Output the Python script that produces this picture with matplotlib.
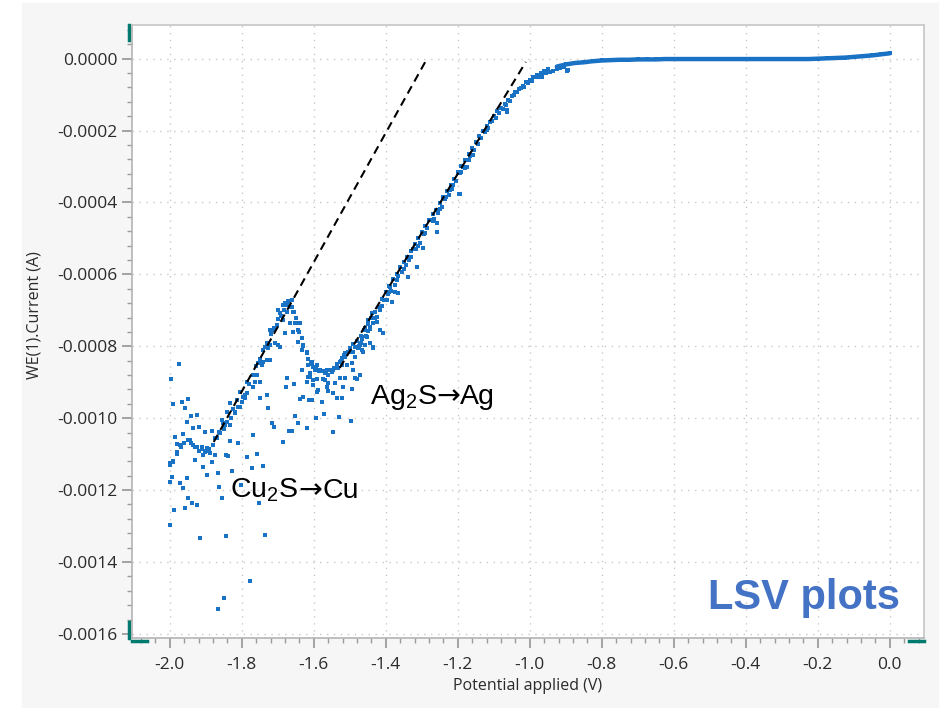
import numpy as np
import matplotlib.pyplot as plt
from matplotlib.patches import Rectangle
from matplotlib.lines import Line2D
from matplotlib.ticker import MultipleLocator, FuncFormatter
from matplotlib.offsetbox import TextArea, HPacker, AnnotationBbox

plt.rcParams['font.family'] = ['Open Sans', 'DejaVu Sans']
plt.rcParams['mathtext.fontset'] = 'custom'
plt.rcParams['mathtext.rm'] = 'Liberation Sans'

# LSV data: (potential V, current mA)
flat_pts = [(-0.925, -0.022), (-0.900, -0.016), (-0.875, -0.012), (-0.850, -0.010),
            (-0.825, -0.007), (-0.800, -0.005), (-0.775, -0.004), (-0.750, -0.003),
            (-0.725, -0.003), (-0.700, -0.002), (-0.675, -0.002), (-0.650, -0.002),
            (-0.625, -0.001), (-0.600, -0.001), (-0.575, -0.001), (-0.550, -0.001),
            (-0.525, -0.001), (-0.500, -0.001), (-0.475, -0.001), (-0.450, -0.001),
            (-0.425, -0.001), (-0.400, -0.001), (-0.375, -0.001), (-0.350, -0.001),
            (-0.325, -0.001), (-0.300, -0.001), (-0.275, -0.001), (-0.250, -0.001),
            (-0.225, -0.001), (-0.200, 0.000), (-0.175, 0.001), (-0.150, 0.002),
            (-0.125, 0.003), (-0.100, 0.005), (-0.075, 0.007), (-0.050, 0.009),
            (-0.025, 0.012), (0.000, 0.015)]

steep_pts = [(-0.95, -0.030), (-0.96, -0.034), (-0.97, -0.040), (-0.98, -0.046), (-0.99, -0.052),
             (-1.00, -0.060), (-1.01, -0.066), (-1.02, -0.075), (-1.03, -0.083), (-1.04, -0.093),
             (-1.05, -0.103), (-1.06, -0.116), (-1.07, -0.125), (-1.08, -0.137), (-1.09, -0.146),
             (-1.10, -0.160), (-1.11, -0.175), (-1.12, -0.188), (-1.13, -0.200), (-1.14, -0.216),
             (-1.15, -0.232), (-1.16, -0.249), (-1.17, -0.265), (-1.18, -0.282), (-1.19, -0.298),
             (-1.20, -0.316), (-1.21, -0.335), (-1.22, -0.352), (-1.23, -0.368), (-1.24, -0.386),
             (-1.25, -0.402), (-1.26, -0.420), (-1.27, -0.432), (-1.28, -0.448), (-1.29, -0.466),
             (-1.30, -0.482), (-1.31, -0.500), (-1.32, -0.516), (-1.33, -0.535), (-1.34, -0.552),
             (-1.35, -0.565), (-1.36, -0.580), (-1.37, -0.598), (-1.38, -0.614), (-1.39, -0.632),
             (-1.40, -0.650), (-1.41, -0.668), (-1.42, -0.690), (-1.43, -0.705), (-1.44, -0.720),
             (-1.45, -0.738), (-1.46, -0.755), (-1.47, -0.770), (-1.48, -0.785), (-1.49, -0.795),
             (-1.50, -0.805),
             (-0.965, -0.041), (-0.985, -0.052), (-1.005, -0.068), (-1.025, -0.082), (-1.045, -0.102),
             (-1.065, -0.128), (-1.085, -0.150), (-1.105, -0.172), (-1.125, -0.205), (-1.135, -0.220),
             (-1.155, -0.255), (-1.165, -0.272), (-1.175, -0.300), (-1.185, -0.300), (-1.195, -0.318),
             (-1.205, -0.340), (-1.215, -0.362), (-1.225, -0.378), (-1.235, -0.390), (-1.245, -0.412),
             (-1.255, -0.428), (-1.265, -0.445), (-1.275, -0.450), (-1.285, -0.472), (-1.295, -0.488),
             (-1.305, -0.512), (-1.315, -0.530), (-1.325, -0.530), (-1.335, -0.560), (-1.345, -0.575),
             (-1.355, -0.592), (-1.365, -0.605), (-1.375, -0.630), (-1.385, -0.645), (-1.395, -0.655),
             (-1.405, -0.672), (-1.415, -0.700), (-1.425, -0.718), (-1.435, -0.735), (-1.445, -0.752),
             (-1.455, -0.770), (-1.465, -0.780), (-1.475, -0.800), (-1.485, -0.830)]

# second row of points just under the steep band
steep_low_pts = [(-0.905, -0.024), (-0.915, -0.027), (-0.925, -0.030), (-0.935, -0.033), (-0.945, -0.036),
                 (-0.955, -0.040), (-0.975, -0.050), (-0.995, -0.062), (-1.015, -0.078), (-1.035, -0.094),
                 (-1.055, -0.118), (-1.075, -0.140), (-1.095, -0.164), (-1.115, -0.192), (-1.145, -0.238),
                 (-1.170, -0.282), (-1.190, -0.316), (-1.212, -0.352), (-1.232, -0.386), (-1.250, -0.418),
                 (-1.270, -0.452), (-1.290, -0.485), (-1.310, -0.520), (-1.330, -0.552), (-1.350, -0.585),
                 (-1.370, -0.616), (-1.390, -0.650), (-1.410, -0.688), (-1.430, -0.722), (-1.450, -0.758),
                 (-1.470, -0.790), (-1.490, -0.815)]

knee_pts = [(-0.897, -0.034), (-0.894, -0.031), (-0.967, -0.051), (-1.064, -0.143), (-1.064, -0.148),
            (-1.119, -0.198), (-1.158, -0.268), (-1.175, -0.301), (-1.181, -0.304), (-1.194, -0.377),
            (-1.197, -0.377), (-1.222, -0.365), (-1.258, -0.458), (-1.258, -0.482), (-1.297, -0.527),
            (-1.314, -0.580), (-1.339, -0.607), (-1.367, -0.652), (-1.383, -0.677), (-1.408, -0.763),
            (-1.436, -0.802), (-1.464, -0.816)]

band_pts = [(-1.505, -0.815), (-1.515, -0.825), (-1.525, -0.840), (-1.535, -0.848), (-1.545, -0.860),
            (-1.555, -0.866), (-1.565, -0.872), (-1.575, -0.870), (-1.585, -0.868), (-1.595, -0.860),
            (-1.605, -0.850), (-1.615, -0.835), (-1.620, -0.818), (-1.630, -0.800), (-1.640, -0.760),
            (-1.645, -0.735), (-1.650, -0.720), (-1.655, -0.705), (-1.660, -0.690), (-1.668, -0.678),
            (-1.675, -0.685), (-1.682, -0.700), (-1.690, -0.715), (-1.700, -0.725), (-1.710, -0.748),
            (-1.720, -0.765), (-1.730, -0.790), (-1.740, -0.810), (-1.750, -0.835), (-1.760, -0.855),
            (-1.770, -0.880), (-1.780, -0.905), (-1.790, -0.935), (-1.800, -0.955), (-1.810, -0.970),
            (-1.820, -0.985), (-1.830, -1.000), (-1.840, -1.010), (-1.850, -1.030), (-1.860, -1.040),
            (-1.870, -1.055), (-1.880, -1.075), (-1.890, -1.085), (-1.900, -1.090), (-1.910, -1.085),
            (-1.920, -1.090), (-1.930, -1.080), (-1.940, -1.070), (-1.950, -1.060), (-1.960, -1.070),
            (-1.970, -1.080), (-1.980, -1.100), (-1.990, -1.120), (-2.000, -1.130)]

scatter_pts = [(-1.975, -0.850), (-1.997, -0.891), (-1.992, -0.960), (-1.967, -0.955), (-1.950, -0.947),
               (-1.958, -0.972), (-1.942, -0.994), (-1.925, -0.991), (-1.953, -1.011), (-1.936, -1.027),
               (-1.919, -1.024), (-1.903, -1.038), (-1.883, -1.036), (-1.964, -1.044), (-1.986, -1.052),
               (-1.944, -1.061), (-1.981, -1.072), (-1.972, -1.075), (-1.936, -1.075), (-1.925, -1.080),
               (-1.911, -1.080), (-1.897, -1.083), (-1.903, -1.094), (-1.889, -1.097), (-1.875, -1.102),
               (-1.908, -1.102), (-1.981, -1.094), (-1.931, -1.116), (-1.992, -1.122), (-2.000, -1.125),
               (-1.994, -1.164), (-2.000, -1.178), (-1.972, -1.180), (-1.964, -1.194), (-1.908, -1.136),
               (-1.883, -1.122), (-1.897, -1.158), (-1.953, -1.166), (-1.950, -1.222), (-1.939, -1.236),
               (-1.925, -1.241), (-1.958, -1.250), (-1.989, -1.255), (-2.000, -1.297), (-1.917, -1.333),
               (-1.844, -1.328), (-1.864, -1.191), (-1.856, -1.222), (-1.828, -1.147), (-1.867, -1.152),
               (-1.850, -1.500), (-1.867, -1.531), (-1.778, -1.453), (-1.736, -1.325), (-1.753, -1.236),
               (-1.803, -1.186),
               (-1.844, -1.102), (-1.839, -1.105), (-1.833, -1.063), (-1.811, -1.069), (-1.786, -1.108),
               (-1.758, -1.100), (-1.769, -1.047), (-1.772, -1.139), (-1.742, -1.133), (-1.853, -1.013),
               (-1.833, -1.019), (-1.864, -1.038), (-1.842, -0.983), (-1.856, -1.005), (-1.825, -0.974),
               (-1.833, -0.958), (-1.806, -0.969), (-1.814, -0.949), (-1.797, -0.941), (-1.806, -0.927),
               (-1.786, -0.930), (-1.750, -0.944), (-1.731, -0.935), (-1.728, -0.972), (-1.717, -1.013),
               (-1.711, -1.024), (-1.686, -1.066), (-1.669, -1.036), (-1.661, -1.036), (-1.653, -0.994),
               (-1.644, -1.013), (-1.619, -1.027), (-1.594, -0.999), (-1.572, -0.988), (-1.547, -1.038),
               (-1.531, -0.997), (-1.497, -1.008),
               (-1.678, -0.913), (-1.675, -0.888), (-1.656, -0.905), (-1.631, -0.941), (-1.633, -0.866),
               (-1.611, -0.874), (-1.606, -0.949), (-1.578, -0.955), (-1.564, -0.913), (-1.547, -0.930),
               (-1.522, -0.944), (-1.494, -0.919), (-1.481, -0.891), (-1.472, -0.880), (-1.639, -0.947),
               (-1.614, -0.949), (-1.589, -0.922), (-1.561, -0.924), (-1.536, -0.944), (-1.617, -0.885),
               (-1.603, -0.894), (-1.592, -0.891), (-1.575, -0.891), (-1.561, -0.902), (-1.542, -0.902),
               (-1.528, -0.888), (-1.486, -0.888), (-1.750, -0.899), (-1.769, -0.913), (-1.758, -0.880),
               (-1.786, -0.899),
               (-1.731, -0.838), (-1.744, -0.852), (-1.722, -0.796), (-1.708, -0.791), (-1.694, -0.802),
               (-1.717, -0.755), (-1.703, -0.741), (-1.686, -0.727), (-1.675, -0.705), (-1.667, -0.691),
               (-1.658, -0.705), (-1.700, -0.699), (-1.686, -0.685), (-1.672, -0.674), (-1.661, -0.671),
               (-1.681, -0.680), (-1.653, -0.735), (-1.639, -0.735), (-1.667, -0.735), (-1.658, -0.760),
               (-1.644, -0.755), (-1.633, -0.777), (-1.631, -0.796), (-1.619, -0.816), (-1.606, -0.844),
               (-1.592, -0.852), (-1.564, -0.866), (-1.561, -0.880), (-1.550, -0.872), (-1.536, -0.860),
               (-1.528, -0.844), (-1.514, -0.830), (-1.506, -0.816), (-1.500, -0.805), (-1.472, -0.796),
               (-1.467, -0.774), (-1.453, -0.774), (-1.436, -0.802), (-1.444, -0.746), (-1.425, -0.732),
               (-1.417, -0.755), (-1.408, -0.763), (-1.417, -0.699), (-1.397, -0.671), (-1.389, -0.635),
               (-1.375, -0.649),
               (-1.603, -0.858), (-1.583, -0.866), (-1.569, -0.894), (-1.519, -0.913), (-1.603, -0.908),
               (-1.619, -0.899), (-1.592, -0.927), (-1.514, -0.888), (-1.492, -0.866), (-1.617, -0.852),
               (-1.597, -0.866), (-1.569, -0.874), (-1.547, -0.866), (-1.533, -0.860), (-1.522, -0.852),
               (-1.508, -0.852), (-1.494, -0.847), (-1.522, -0.833), (-1.514, -0.819), (-1.494, -0.816),
               (-1.486, -0.802), (-1.478, -0.805), (-1.467, -0.810), (-1.458, -0.796), (-1.444, -0.791),
               (-1.436, -0.805), (-1.458, -0.749), (-1.450, -0.727), (-1.439, -0.708), (-1.431, -0.721),
               (-1.694, -0.708), (-1.681, -0.763), (-1.644, -0.788), (-1.700, -0.796), (-1.714, -0.755),
               (-1.722, -0.755), (-1.633, -0.810), (-1.722, -0.838), (-1.728, -0.805), (-1.736, -0.802),
               (-1.744, -0.847), (-1.756, -0.847), (-1.608, -0.844), (-1.611, -0.885), (-1.764, -0.899),
               (-1.742, -0.844), (-1.792, -0.944), (-1.819, -0.983), (-1.847, -1.019), (-1.875, -1.055)]

# dashed guide lines (endpoints, V and mA)
fit_cu_v = [-1.878, -1.286]
fit_cu_ma = [-1.066, -0.001]
fit_ag_v = [-1.528, -1.011]
fit_ag_ma = [-0.860, -0.009]

blue = '#1a72c4'
fig = plt.figure(figsize=(9.46, 7.08), dpi=100, facecolor='white')
fig.patches.append(Rectangle((22 / 946, 0), (938 - 22) / 946, 705 / 708,
                             transform=fig.transFigure, color='#f6f6f6', zorder=-5))
ax = fig.add_axes([132 / 946, 1 - 638 / 708, 792 / 946, 613 / 708])
ax.set_facecolor('white')

flat = np.array(flat_pts)
ax.plot(flat[:, 0], flat[:, 1] / 1000, color=blue, lw=3.2, solid_capstyle='round', zorder=3)
for pts in (flat_pts, steep_pts, steep_low_pts, knee_pts, band_pts, scatter_pts):
    a = np.array(pts)
    ax.plot(a[:, 0], a[:, 1] / 1000, 's', ms=2.7, mew=0, color=blue, zorder=3)

ax.plot(fit_cu_v, np.array(fit_cu_ma) / 1000, color='black', lw=1.5, dashes=(4, 2.6), zorder=4)
ax.plot(fit_ag_v, np.array(fit_ag_ma) / 1000, color='black', lw=1.5, dashes=(4, 2.6), zorder=4)

ax.set_xlim(-2.105, 0.095)
ax.set_ylim(-0.0016114, 0.0000937)

ax.xaxis.set_major_locator(MultipleLocator(0.2))
ax.xaxis.set_minor_locator(MultipleLocator(0.04))
ax.yaxis.set_major_locator(MultipleLocator(0.0002))
ax.yaxis.set_minor_locator(MultipleLocator(0.00004))
ax.xaxis.set_major_formatter(FuncFormatter(lambda v, p: '%.1f' % (0 if abs(v) < 1e-9 else v)))
ax.yaxis.set_major_formatter(FuncFormatter(lambda v, p: '%.4f' % (0 if abs(v) < 1e-12 else v)))

ax.grid(True, which='major', color='#c8c8c8', lw=1, linestyle=(0, (1, 4)))
for s in ax.spines.values():
    s.set_color('#c6c6c6')
    s.set_linewidth(1.2)
ax.spines['left'].set_color('#b4b4b4')
ax.spines['bottom'].set_color('#b4b4b4')
ax.tick_params(which='major', direction='out', length=7, width=1.1, color='#8c8c8c',
               labelsize=12.5, labelcolor='#2b2b2b', pad=3.5)
ax.tick_params(axis='x', which='major', pad=7)
ax.tick_params(which='minor', direction='out', length=3.8, width=1.0, color='#9a9a9a')

ax.set_xlabel('Potential applied (V)', fontsize=11.5, color='#2b2b2b')
ax.set_ylabel('WE(1).Current (A)', fontsize=11.5, color='#2b2b2b')
ax.xaxis.set_label_coords(0.5, -0.066)
ax.yaxis.set_label_coords(-0.1136, 0.527)

# teal corner marks of the instrument software
teal = '#007a6e'
for xs, ys in [([-0.004, -0.004], [0.975, 1.0]), ([-0.004, -0.004], [0.0, 0.026]),
               ([0.0, 0.019], [-0.005, -0.005]), ([0.981, 1.0], [-0.005, -0.005])]:
    ax.add_line(Line2D(xs, ys, transform=ax.transAxes, color=teal, lw=2.5, clip_on=False))


def reaction_label(x, y, left, right):
    # Liberation Sans text with the long DejaVu arrow in between
    lib = dict(size=20.5, family='Liberation Sans', color='black')
    parts = [TextArea(left, textprops=lib),
             TextArea('\u2192', textprops=dict(size=20.5, family='DejaVu Sans', color='black')),
             TextArea(right, textprops=lib)]
    box = HPacker(children=parts, align='baseline', pad=0, sep=0)
    ax.add_artist(AnnotationBbox(box, (x, y), xycoords='data', box_alignment=(0, 0.5),
                                 frameon=False, pad=0, zorder=5))


reaction_label(-1.445, -0.000941, r'Ag$_\mathregular{2}$S', 'Ag')
reaction_label(-1.833, -0.00120, r'Cu$_\mathregular{2}$S', 'Cu')
ax.text(0.970, 0.065, 'LSV plots', transform=ax.transAxes, fontsize=30, fontweight='bold',
        family=['Liberation Sans', 'DejaVu Sans'], color='#4472c4', ha='right', va='center')

fig.savefig('out.png', dpi=100, facecolor=fig.get_facecolor())
